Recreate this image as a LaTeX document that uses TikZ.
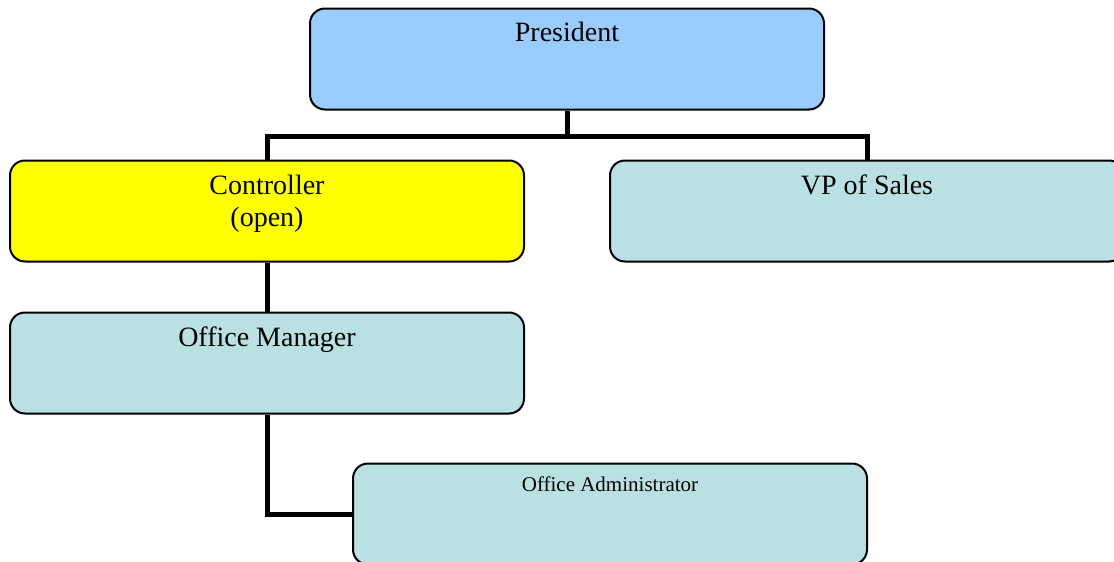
\documentclass[tikz,border=0pt]{standalone}
\usepackage{fontspec}
\setmainfont{Liberation Serif}
\usetikzlibrary{positioning}
\definecolor{azul}{HTML}{99CCFF}
\definecolor{amarillo}{HTML}{FFFF00}
\definecolor{celeste}{HTML}{B9E0E3}
\begin{document}
\begin{tikzpicture}[x=1pt,y=-1pt,
		caja/.style={draw, line width=2pt, rounded corners=15pt, minimum width=514pt, minimum height=101pt, inner sep=0pt},
		texto/.style={anchor=base, align=center, font=\fontsize{28}{32}\selectfont},
		linea/.style={line width=5pt}]
			\useasboundingbox (0,0) rectangle (1114,562);
			
			% Cajas del organigrama
			\node[caja, fill=azul] (pres) at (567,59) {};
			\node[caja, fill=amarillo] (ctrl) at (267,211) {};
			\node[caja, fill=celeste] (vp) at (867,211) {};
			\node[caja, fill=celeste] (om) at (267,363) {};
			\node[caja, fill=celeste] (adm) at (610,514) {};
			
			% Textos
			\node[texto] (pres-t) at (567,41) {President};
			\node[texto] (ctrl-t) at (267,226) {Controller\\(open)};
			\node[texto] (vp-t) at (867,194) {VP of Sales};
			\node[texto] (om-t) at (267,346) {Office Manager};
			\node[texto, font=\fontsize{21}{24}\selectfont] (adm-t) at (610,491) {Office Administrator};
			
			% Lineas de union
			\draw[linea] (pres.south) -- ++(0,26) coordinate (bus) -| (ctrl.north);
			\draw[linea] (bus) -| (vp.north);
			\draw[linea] (ctrl.south) -- (om.north);
			\draw[linea] (om.south) |- (adm.west);
		\end{tikzpicture}
\end{document}
